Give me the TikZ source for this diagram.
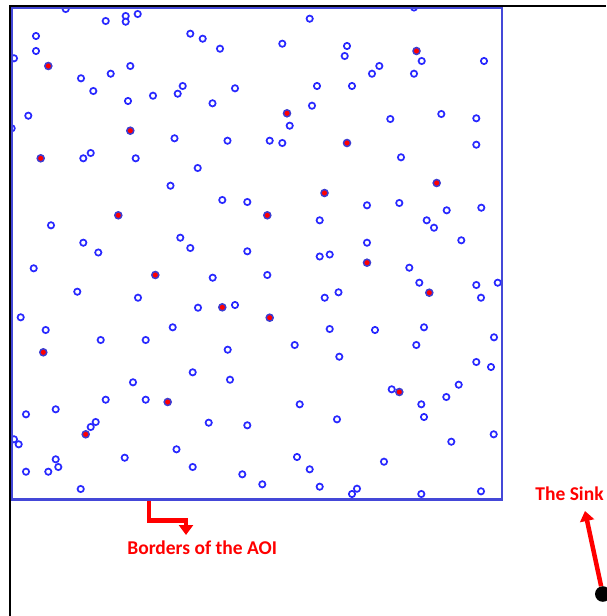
\documentclass[tikz,border=0pt]{standalone}
\usepackage{fontspec}
\setmainfont{Carlito}
\usetikzlibrary{arrows.meta}
\definecolor{ptblue}{RGB}{40,40,255}
\definecolor{ringblue}{RGB}{60,60,210}
\definecolor{aoiblue}{RGB}{68,72,216}
\begin{document}
\begin{tikzpicture}[x=1pt,y=-1pt,
  sensor/.style={draw=ptblue,line width=1.7pt,fill=white},
  headnode/.style={draw=ringblue,line width=1.5pt,fill=red},
  redarrow/.style={draw=red,line width=4.5pt,-{Triangle[width=14pt,length=10pt]}},
  lab/.style={text=red,font=\fontsize{19.5}{22}\selectfont\bfseries,inner sep=0pt}]
\useasboundingbox (0,0) rectangle (606,616);
\draw[black,line width=1.6pt] (10,616) -- (10,6) -- (606,6);
\begin{scope}
\clip (12,8) rectangle (501.8,499.3);
\foreach \x/\y in {65.7/9,105.7/21,125.7/16,125.7/21.7,137.7/14,36/36,36/51,14/58.3,81/78.3,110.7/73.7,
130.3/66,93.3/91,128/101,153/95.7,28.3/115.7,11.7/128.3,174.5/138.3,83.3/158.3,90.7/153,135.7/158.3,
170.5/185.7,51/225.3,83.3/242.7,98.3/252.5,309.7/18.7,190.3/33.7,202.7/38.7,220/48.7,282.3/43.7,182.7/86,
177.7/93.7,235/88.3,212.5/103.3,317/86,312/105.7,289.7/125.7,227.5/140.7,269.7/140.7,282.3/143,197.7/168,
222.3/200,247.3/202,319.7/220.3,180.3/237.7,190.3/248,247.3/251.3,319.7/256.5,329.7/254.5,414/7.5,347/46,
344.7/56,421.7/61,484/61,379.3/66,372/73.7,414/73.7,352/86,390.3/119,441.3/114,476.3/118.3,
476.3/144.7,401/157.3,367/205.3,399.3/203,446.7/210.3,481.3/207.7,426.7/220.3,434/227.7,367/242.7,461.3/240.3,
33.7/268.3,77.3/291.7,138/297.7,20.7/317.3,45.7/330,100.7/340,145.7/340,172.7/327.3,133/382.3,105.7/399.7,
145.7/399.7,26/414.3,55.7/409.3,95.7/422,90.7/427,14/439.3,18.7/444.3,124.7/457.7,55.7/459.3,58.3/467,
26/471.7,48.3/471.7,80.7/489,176.5/449.3,212.7/277.7,267.3/275,338.5/292.3,324.7/297.7,198/307.7,235/305,
329.7/329,294.7/345,227.7/349.7,339.3/356.7,192.7/372.3,230/379.7,299.7/404.3,337/419.3,208.7/422.7,247.3/425.3,
192.7/467,297/457,309.7/469.3,242.3/474.3,262.3/484.3,319.7/486.7,409.3/267.7,419.3/282.7,476.3/285,497.7/282.7,
481/297.7,375/330,424/327.3,494/337.3,416.3/345,476.3/362,491/367,458.7/384.7,391.7/389.3,446.3/397,
421.3/404.3,424/417,493.7/434.3,451.3/441.7,384/461.7,357/488.7,352/494,421.3/494,481/491.3}
  \draw[sensor] (\x,\y) circle[radius=3.15];
\foreach \x/\y in {48.3/66,130.3/130.7,40.7/158.3,118.3/215.3,287/113.3,267.3/215.3,324.5/193,416.5/51,
347/143,436.7/183,155.3/275,43.3/352.3,167.7/402,85.7/434.3,222.3/307.3,269.7/317.7,367/262.7,429.3/292.7,399.3/392}
  \draw[headnode] (\x,\y) circle[radius=3.5];
\end{scope}
\draw[aoiblue,line width=2.4pt] (12,8) rectangle (501.8,499.3);
% labels
\node[lab,anchor=base] (aoilabel) at (202.2,554) {Borders of the AOI};
\node[lab,anchor=base] (sinklabel) at (569.5,500) {The Sink};
\node[circle,fill=black,minimum size=15.6pt,inner sep=0pt] (sink) at (602.8,594) {};
\coordinate (aoistart) at (149,500.5);
\coordinate (aoitip) at (186,535);
\coordinate (sinktip) at (585,511);
\draw[redarrow] (aoistart) -- ++(0,20) -| (aoitip);
\draw[redarrow] (sink) -- (sinktip);
\end{tikzpicture}
\end{document}
